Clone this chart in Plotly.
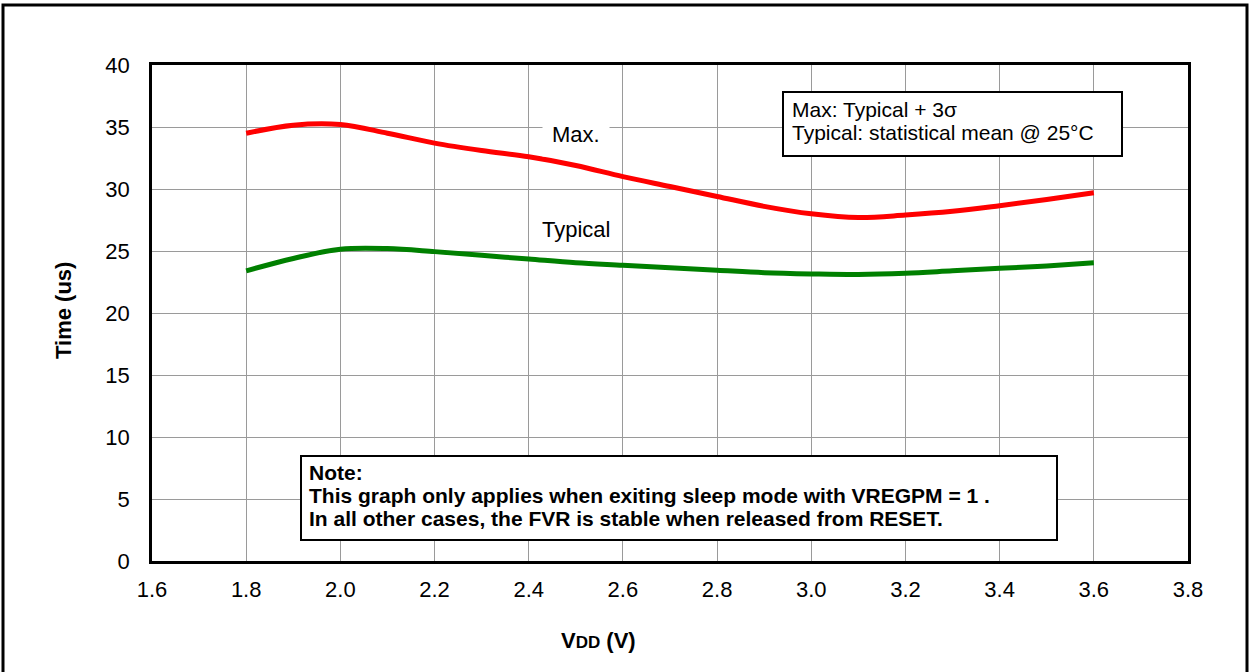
import plotly.graph_objects as go

# ---- data ----
vdd = [1.8, 1.9, 2.0, 2.1, 2.2, 2.3, 2.4, 2.5, 2.6, 2.7, 2.8, 2.9, 3.0, 3.1, 3.2, 3.3, 3.4, 3.5, 3.6]
max_time = [34.5, 35.15, 35.2, 34.5, 33.7, 33.1, 32.6, 31.9, 31.0, 30.2, 29.4, 28.6, 28.0, 27.7, 27.9, 28.2, 28.65, 29.15, 29.7]
typ_time = [23.4, 24.4, 25.15, 25.2, 24.95, 24.65, 24.35, 24.05, 23.85, 23.65, 23.45, 23.25, 23.15, 23.1, 23.2, 23.4, 23.6, 23.8, 24.05]
x_ticks = [1.6, 1.8, 2.0, 2.2, 2.4, 2.6, 2.8, 3.0, 3.2, 3.4, 3.6, 3.8]
x_tick_text = ["1.6", "1.8", "2.0", "2.2", "2.4", "2.6", "2.8", "3.0", "3.2", "3.4", "3.6", "3.8"]
y_ticks = [0, 5, 10, 15, 20, 25, 30, 35, 40]

W, H = 1249, 672
L, R, T, B = 152, 1188, 65, 561
FONT = "Liberation Sans, Arial, sans-serif"


def px(x):
    return (x - L) / (R - L)


def py(y):
    return (B - y) / (B - T)


fig = go.Figure()
fig.add_trace(go.Scatter(x=vdd, y=max_time, mode="lines", name="Max.",
                         line=dict(color="#FF0000", width=5, shape="spline", smoothing=1.0)))
fig.add_trace(go.Scatter(x=vdd, y=typ_time, mode="lines", name="Typical",
                         line=dict(color="#008000", width=5, shape="spline", smoothing=1.0)))

fig.update_layout(
    width=W, height=H,
    margin=dict(l=L, r=W - R, t=T, b=H - B, pad=0),
    paper_bgcolor="white", plot_bgcolor="white",
    showlegend=False,
    font=dict(family=FONT, size=22, color="black"),
    xaxis=dict(range=[1.6, 3.8], tickvals=x_ticks, ticktext=x_tick_text,
               showgrid=True, gridcolor="#9a9a9a", gridwidth=1,
               showline=True, linecolor="black", linewidth=2.5, mirror=True,
               ticks="", ticklabelstandoff=7, zeroline=False,
               tickfont=dict(size=22)),
    yaxis=dict(range=[0, 40], tickvals=y_ticks,
               showgrid=True, gridcolor="#9a9a9a", gridwidth=1,
               showline=True, linecolor="black", linewidth=2.5, mirror=True,
               ticks="", ticklabelstandoff=15, zeroline=False,
               tickfont=dict(size=22)),
    yaxis2=dict(range=[0, 40], tickvals=y_ticks, overlaying="y", side="right",
                showgrid=False, showline=False, zeroline=False,
                ticks="outside", ticklen=11, tickcolor="#9a9a9a", tickwidth=1,
                showticklabels=False),
)

shapes = []
# outer frame (left, top, right)
shapes.append(dict(type="path", xref="paper", yref="paper",
                   path=f"M {px(3)} {py(700)} L {px(3)} {py(5)} L {px(1247)} {py(5)} L {px(1247)} {py(700)}",
                   line=dict(color="black", width=3)))
# info box
shapes.append(dict(type="rect", xref="paper", yref="paper",
                   x0=px(783), x1=px(1122), y0=py(156), y1=py(92),
                   line=dict(color="black", width=2), fillcolor="white", layer="above"))
# note box
shapes.append(dict(type="rect", xref="paper", yref="paper",
                   x0=px(301), x1=px(1057), y0=py(540), y1=py(456),
                   line=dict(color="black", width=2), fillcolor="white", layer="above"))
fig.update_layout(shapes=shapes)

ann = []
ann.append(dict(x=2.5, y=34.4, xref="x", yref="y", text="Max.", showarrow=False,
                font=dict(size=22), bgcolor="white", borderpad=9))
ann.append(dict(x=2.5, y=26.7, xref="x", yref="y", text="Typical", showarrow=False,
                font=dict(size=22)))
ann.append(dict(x=px(790), y=py(109.6), xref="paper", yref="paper", xanchor="left", yanchor="middle",
                text="Max: Typical + 3σ", showarrow=False, font=dict(size=21)))
ann.append(dict(x=px(790), y=py(132.6), xref="paper", yref="paper", xanchor="left", yanchor="middle",
                text="Typical: statistical mean @ 25°C", showarrow=False, font=dict(size=21)))
note_lines = ["Note:",
              "This graph only applies when exiting sleep mode with VREGPM = 1 .",
              "In all other cases, the FVR is stable when released from RESET."]
for i, t in enumerate(note_lines):
    ann.append(dict(x=px(307), y=py(472.6 + 23 * i), xref="paper", yref="paper",
                    xanchor="left", yanchor="middle", text=f"<b>{t}</b>",
                    showarrow=False, font=dict(size=21)))
ann.append(dict(x=px(63), y=py(311), xref="paper", yref="paper", textangle=-90,
                xanchor="center", yanchor="middle",
                text="<b>Time (us)</b>", showarrow=False, font=dict(size=22)))
ann.append(dict(x=px(598), y=py(640), xref="paper", yref="paper",
                xanchor="center", yanchor="middle",
                text="<b>V<span style='font-size:17px'>DD</span> (V)</b>", showarrow=False,
                font=dict(size=22)))
fig.update_layout(annotations=ann)

fig.write_html("out.html", config={"displayModeBar": False},
               post_script="document.body.style.margin='0';document.documentElement.style.overflow='hidden';")
